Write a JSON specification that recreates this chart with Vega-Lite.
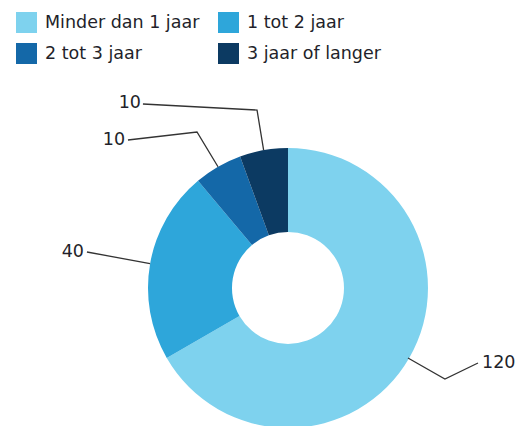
{
  "$schema": "https://vega.github.io/schema/vega-lite/v6.json",
  "width": 519,
  "height": 426,
  "autosize": "none",
  "padding": 0,
  "background": "white",
  "config": {"view": {"stroke": null}},
  "layer": [
    {
      "data": {"values": [
        {"cat": "Minder dan 1 jaar", "idx": 1, "value": 120},
        {"cat": "1 tot 2 jaar", "idx": 2, "value": 40},
        {"cat": "2 tot 3 jaar", "idx": 3, "value": 10},
        {"cat": "3 jaar of langer", "idx": 4, "value": 10}
      ]},
      "mark": {"type": "arc", "outerRadius": 140, "innerRadius": 56},
      "encoding": {
        "x": {"datum": 0, "type": "quantitative", "scale": {"domain": [-2.057, 1.65], "nice": false, "zero": false}, "axis": null},
        "y": {"datum": 0, "type": "quantitative", "scale": {"domain": [-0.986, 2.057], "nice": false, "zero": false}, "axis": null},
        "theta": {"field": "value", "type": "quantitative", "stack": true},
        "order": {"field": "idx", "type": "quantitative"},
        "color": {
          "field": "cat", "type": "nominal", "sort": null,
          "scale": {
            "domain": ["Minder dan 1 jaar", "1 tot 2 jaar", "2 tot 3 jaar", "3 jaar of langer"],
            "range": ["#7ed2ee", "#2ea6da", "#1468a8", "#0c3a62"]
          },
          "legend": {
            "title": null, "orient": "none", "legendX": 16, "legendY": 12,
            "direction": "horizontal", "columns": 2, "padding": 0,
            "symbolType": "square", "symbolSize": 441, "symbolStrokeWidth": 0,
            "labelFont": "DejaVu Sans", "labelFontSize": 17.5, "labelColor": "#231f2a",
            "labelOffset": 8, "columnPadding": 18, "rowPadding": 10, "labelLimit": 300
          }
        }
      }
    },
    {
      "data": {"values": [
        {"g": "a", "o": 1, "x": 0.857, "y": -0.5},
        {"g": "a", "o": 2, "x": 1.121, "y": -0.65},
        {"g": "a", "o": 3, "x": 1.357, "y": -0.536},
        {"g": "b", "o": 1, "x": -0.985, "y": 0.174},
        {"g": "b", "o": 2, "x": -1.436, "y": 0.257},
        {"g": "c", "o": 1, "x": -0.5, "y": 0.866},
        {"g": "c", "o": 2, "x": -0.65, "y": 1.114},
        {"g": "c", "o": 3, "x": -1.143, "y": 1.057},
        {"g": "d", "o": 1, "x": -0.174, "y": 0.985},
        {"g": "d", "o": 2, "x": -0.221, "y": 1.271},
        {"g": "d", "o": 3, "x": -1.036, "y": 1.314}
      ]},
      "mark": {"type": "line", "color": "#333333", "strokeWidth": 1.3},
      "encoding": {
        "x": {"field": "x", "type": "quantitative", "scale": {"domain": [-2.057, 1.65], "nice": false, "zero": false}, "axis": null},
        "y": {"field": "y", "type": "quantitative", "scale": {"domain": [-0.986, 2.057], "nice": false, "zero": false}, "axis": null},
        "detail": {"field": "g"},
        "order": {"field": "o", "type": "quantitative"}
      }
    },
    {
      "data": {"values": [
        {"label": "40", "x": -1.457, "y": 0.257},
        {"label": "10", "x": -1.164, "y": 1.057},
        {"label": "10", "x": -1.05, "y": 1.321}
      ]},
      "mark": {"type": "text", "align": "right", "baseline": "middle", "font": "DejaVu Sans", "fontSize": 17.5, "color": "#231f2a"},
      "encoding": {
        "x": {"field": "x", "type": "quantitative", "scale": {"domain": [-2.057, 1.65], "nice": false, "zero": false}, "axis": null},
        "y": {"field": "y", "type": "quantitative", "scale": {"domain": [-0.986, 2.057], "nice": false, "zero": false}, "axis": null},
        "text": {"field": "label"}
      }
    },
    {
      "data": {"values": [
        {"label": "120", "x": 1.386, "y": -0.536}
      ]},
      "mark": {"type": "text", "align": "left", "baseline": "middle", "font": "DejaVu Sans", "fontSize": 17.5, "color": "#231f2a"},
      "encoding": {
        "x": {"field": "x", "type": "quantitative", "scale": {"domain": [-2.057, 1.65], "nice": false, "zero": false}, "axis": null},
        "y": {"field": "y", "type": "quantitative", "scale": {"domain": [-0.986, 2.057], "nice": false, "zero": false}, "axis": null},
        "text": {"field": "label"}
      }
    }
  ]
}
